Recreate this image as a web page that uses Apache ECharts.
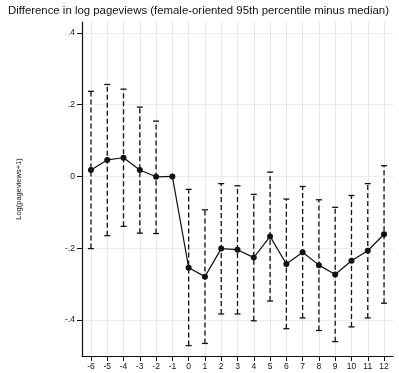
<!DOCTYPE html>
<html>
<head>
<meta charset="utf-8">
<script src="https://cdn.jsdelivr.net/npm/echarts@6/dist/echarts.min.js"></script>
<style>
  html, body { margin: 0; padding: 0; background: #fff; }
  #chart { width: 399px; height: 373px; }
</style>
</head>
<body>
<div id="chart"></div>
<script>
const periods = [-6, -5, -4, -3, -2, -1, 0, 1, 2, 3, 4, 5, 6, 7, 8, 9, 10, 11, 12];
const estimates = [0.018, 0.046, 0.052, 0.018, -0.001, 0, -0.254, -0.279, -0.201, -0.204, -0.226, -0.167, -0.244, -0.211, -0.247, -0.273, -0.235, -0.207, -0.161];
const upperCI = [0.237, 0.256, 0.243, 0.193, 0.154, null, -0.036, -0.093, -0.02, -0.026, -0.05, 0.012, -0.063, -0.028, -0.065, -0.086, -0.053, -0.02, 0.03];
const lowerCI = [-0.201, -0.165, -0.139, -0.158, -0.159, null, -0.471, -0.465, -0.383, -0.383, -0.402, -0.347, -0.424, -0.394, -0.429, -0.46, -0.419, -0.394, -0.353];
const yTicks = [-0.4, -0.2, 0, 0.2, 0.4];

const chart = echarts.init(document.getElementById("chart"));

const fmtY = (v) => {
  if (Math.abs(v) < 1e-9) return "0";
  return (v < 0 ? "-" : "") + Math.abs(v).toFixed(1).replace(/^0/, "");
};

const ciData = periods
  .map((p, i) => [p, lowerCI[i], upperCI[i]])
  .filter((d) => d[1] !== null);

const option = {
  animation: false,
  backgroundColor: "#fff",
  title: {
    text: "Difference in log pageviews (female-oriented 95th percentile minus median)",
    left: 8,
    top: 5,
    padding: 0,
    textStyle: { fontFamily: "Liberation Sans", fontSize: 11.4, fontWeight: "normal", color: "#111" },
  },
  grid: { left: 82, right: 6, top: 22, bottom: 17 },
  xAxis: {
    type: "value",
    min: -6.55,
    max: 12.55,
    axisLine: { show: true, onZero: false, lineStyle: { color: "#111", width: 1.2 } },
    axisTick: { show: true, length: 5, customValues: periods, lineStyle: { color: "#111" } },
    axisLabel: { customValues: periods, fontFamily: "Liberation Sans", fontSize: 8.5, color: "#111", margin: 6 },
    splitLine: { show: true, lineStyle: { color: "#e8e8e8", width: 1 } },
  },
  yAxis: {
    type: "value",
    min: -0.5,
    max: 0.43,
    name: "Log(pageviews+1)",
    nameLocation: "middle",
    nameGap: 59,
    nameTextStyle: { fontFamily: "Liberation Sans", fontSize: 7.5, color: "#111" },
    axisLine: { show: true, onZero: false, lineStyle: { color: "#111", width: 1.2 } },
    axisTick: { show: true, length: 5, customValues: yTicks, lineStyle: { color: "#111" } },
    axisLabel: { customValues: yTicks, formatter: fmtY, fontFamily: "Liberation Sans", fontSize: 8.5, color: "#111", margin: 7 },
    splitLine: { show: true, lineStyle: { color: "#ececec", width: 1 } },
  },
  series: [
    {
      type: "custom",
      data: ciData,
      z: 2,
      renderItem: (params, api) => {
        const x = api.value(0);
        const lo = api.coord([x, api.value(1)]);
        const hi = api.coord([x, api.value(2)]);
        const cap = 3;
        const style = { stroke: "#111", lineWidth: 1.3 };
        return {
          type: "group",
          children: [
            {
              type: "line",
              shape: { x1: lo[0], y1: lo[1], x2: hi[0], y2: hi[1] },
              style: { stroke: "#111", lineWidth: 1.3, lineDash: [5, 3] },
            },
            { type: "line", shape: { x1: lo[0] - cap, y1: lo[1], x2: lo[0] + cap, y2: lo[1] }, style },
            { type: "line", shape: { x1: hi[0] - cap, y1: hi[1], x2: hi[0] + cap, y2: hi[1] }, style },
          ],
        };
      },
    },
    {
      type: "line",
      data: periods.map((p, i) => [p, estimates[i]]),
      z: 3,
      symbol: "circle",
      symbolSize: 6,
      itemStyle: { color: "#111" },
      lineStyle: { color: "#111", width: 1.2 },
    },
  ],
};

chart.setOption(option);
</script>
</body>
</html>
